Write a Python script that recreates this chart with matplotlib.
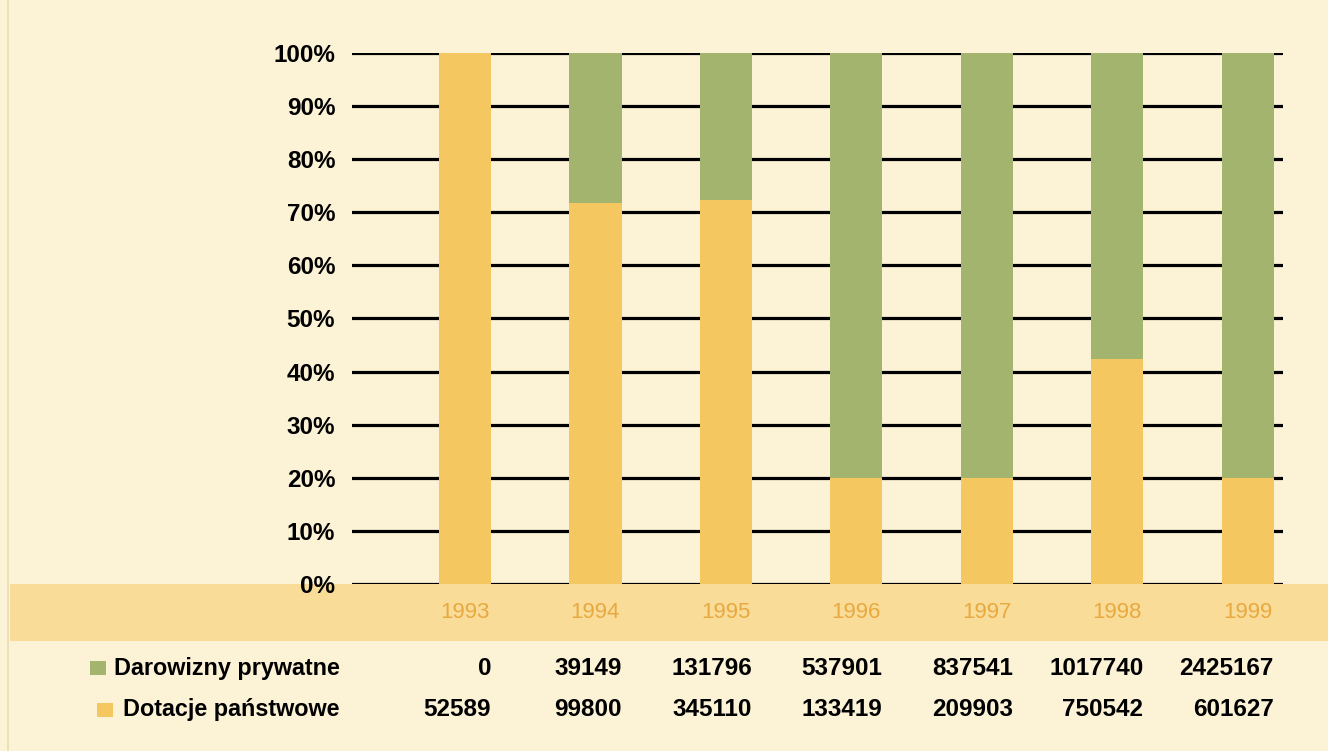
import matplotlib.pyplot as plt
import matplotlib.transforms as mtransforms
from matplotlib.patches import Rectangle
import numpy as np

plt.rcParams['font.family'] = ['Liberation Sans', 'DejaVu Sans']

years = ["1993", "1994", "1995", "1996", "1997", "1998", "1999"]
darowizny = [0, 39149, 131796, 537901, 837541, 1017740, 2425167]
dotacje = [52589, 99800, 345110, 133419, 209903, 750542, 601627]
label_priv = "Darowizny prywatne"
label_state = "Dotacje państwowe"
pct_ticks = list(range(0, 101, 10))

bg = "#fcf2d6"
green = "#a3b46f"
orange = "#f5c761"
band = "#f8dc98"
year_col = "#e9a941"

priv = np.array(darowizny, dtype=float)
state = np.array(dotacje, dtype=float)
total = priv + state
state_pct = state / total * 100
priv_pct = priv / total * 100

fig = plt.figure(figsize=(13.28, 7.51), dpi=100, facecolor=bg)

# orange band behind the year labels
fig.patches.append(Rectangle((0.0075, 0.1465), 0.9925, 0.0759,
                             transform=fig.transFigure, facecolor=band,
                             edgecolor="none", zorder=0))
# faint page edge on the left
fig.add_artist(plt.Line2D([0.006, 0.006], [0, 1], transform=fig.transFigure,
                          color="#eadcb4", lw=1.2, zorder=0))

ax = fig.add_axes([0.265, 0.2224, 0.701, 0.707])
ax.set_zorder(2)
ax.set_facecolor("none")
x = np.arange(len(years))
w = 0.40

ax.bar(x, state_pct, width=w, color=orange, zorder=3)
ax.bar(x, priv_pct, width=w, bottom=state_pct, color=green, zorder=3)

ax.set_xlim(-0.866, 6.268)
ax.set_ylim(0, 100)
ax.set_yticks(pct_ticks)
ax.set_yticklabels([f"{t}%" for t in pct_ticks], fontsize=17.5, fontweight="bold")
ax.yaxis.grid(True, color="black", lw=2.3)
ax.set_axisbelow(True)
for s in ax.spines.values():
    s.set_visible(False)
ax.tick_params(axis="y", length=0, pad=12)
ax.set_xticks(x)
ax.set_xticklabels(years, fontsize=16, color=year_col)
ax.tick_params(axis="x", length=0, pad=13)

# data table under the chart
trans = mtransforms.blended_transform_factory(ax.transData, fig.transFigure)
row_y = [0.1105, 0.0546]
for i in range(len(years)):
    ax.text(x[i] + w / 2, row_y[0], str(darowizny[i]), transform=trans,
            ha="right", va="center", fontsize=17.5, fontweight="bold")
    ax.text(x[i] + w / 2, row_y[1], str(dotacje[i]), transform=trans,
            ha="right", va="center", fontsize=17.5, fontweight="bold")

fig.text(0.256, row_y[0], label_priv, ha="right", va="center",
         fontsize=16.8, fontweight="bold")
fig.text(0.256, row_y[1], label_state, ha="right", va="center",
         fontsize=16.8, fontweight="bold")
fig.patches.append(Rectangle((90 / 1328, row_y[0] - 0.0093), 16 / 1328, 0.0186,
                             transform=fig.transFigure, facecolor=green,
                             edgecolor="none"))
fig.patches.append(Rectangle((97 / 1328, row_y[1] - 0.0093), 16 / 1328, 0.0186,
                             transform=fig.transFigure, facecolor=orange,
                             edgecolor="none"))

fig.savefig("out.png", dpi=100, facecolor=bg)
